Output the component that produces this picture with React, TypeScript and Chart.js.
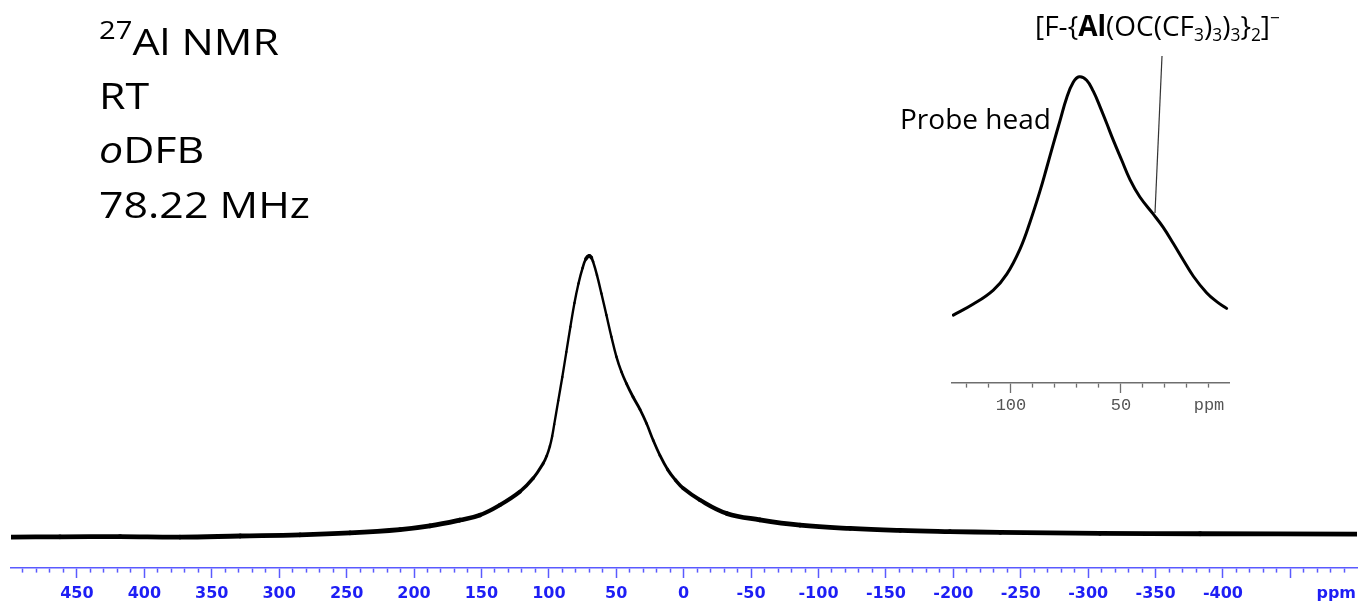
import React, { useEffect, useRef } from "react";
import { Chart, registerables } from "chart.js";

Chart.register(...registerables);

// ---- Main spectrum (27Al NMR) ----
const mainPpm = [
  498.9, 462.6, 418, 373.6, 329, 284.6, 247.5, 210.4, 188.2, 166, 151.1, 136.3,
  121.4, 111.6, 104.1, 101.5, 99.2, 97.5, 96, 93, 90, 87, 84, 81, 78, 75, 72.5, 70,
  68.5, 67.2, 64.3, 61, 57.3, 53.6, 49.9, 46.2, 42.5, 37.6, 32.4, 27.5, 22.6,
  17.6, 12, 6, 0.3, -12.1, -31.9, -56.5, -86.3, -123.4, -160.5, -197.6, -234.7,
  -308.8, -383, -499.4,
];
const mainIntensity = [
  -0.4, -0.3, -0.2, -0.4, 0, 0.4, 1.1, 2.3, 3.6, 5.7, 7.5, 11.1, 15.9, 20.7,
  26.1, 28.8, 32.2, 35.8, 40, 48.5, 57, 66, 75, 83.5, 90.5, 96, 99.3, 100.4, 99.8, 98.3,
  93.5, 86.9, 79.2, 71.4, 64.3, 58.9, 54.7, 49.9, 45.4, 40.3, 34.3, 28.9, 23.9,
  20, 17.1, 12.9, 8.1, 5.8, 3.9, 2.7, 2.0, 1.6, 1.3, 0.95, 0.8, 0.7,
];
const mainTickLabels = [450, 400, 350, 300, 250, 200, 150, 100, 50, 0, -50, -100, -150, -200, -250, -300, -350, -400];
const mainUnitLabel = "ppm";
const mainUnitAt = -484;

// ---- Inset (zoom of the peak) ----
const insetPpm = [
  126.2, 117.1, 108.0, 101.9, 95.9, 91.4, 86.8, 83.8, 80.8, 77.7, 74.7, 71.7,
  69.0, 65.6, 62.6, 59.5, 56.5, 53.5, 49.7, 45.9, 41.4, 35.3, 30.8, 26.2, 21.7,
  17.1, 11.1, 6.5, 2.0,
];
const insetIntensity = [
  22.2, 25.8, 30.4, 35.6, 43.8, 52.5, 62.8, 70.3, 78.0, 85.8, 93.2, 98.3, 100.1,
  99.0, 95.4, 90.3, 84.9, 79.4, 72.9, 66.5, 60.8, 55.2, 50.9, 45.6, 40.2, 34.9,
  29.5, 26.6, 24.4,
];
const insetTickLabels = [100, 50];
const insetUnitLabel = "ppm";
const insetUnitAt = 10;

const AXIS_BLUE = "rgb(90,90,255)";
const LABEL_BLUE = "rgb(30,30,245)";
const INSET_GRAY = "#6e6e6e";

function MainChart() {
  const ref = useRef<HTMLCanvasElement>(null);
  useEffect(() => {
    if (!ref.current) return;
    const chart = new Chart(ref.current, {
      type: "line",
      data: {
        datasets: [
          {
            data: mainPpm.map((x, i) => ({ x, y: mainIntensity[i] })),
            borderColor: "#000",
            borderWidth: 3,
            borderCapStyle: "round",
            borderJoinStyle: "round",
            pointRadius: 0,
            tension: 0.4,
            segment: {
              borderWidth: (ctx: any) => {
                const dx = Math.abs(ctx.p1.x - ctx.p0.x);
                const dy = Math.abs(ctx.p1.y - ctx.p0.y);
                const c = dx / Math.max(1e-6, Math.hypot(dx, dy));
                return 2.3 + 2.5 * c * c;
              },
            },
          },
        ],
      },
      options: {
        animation: false,
        responsive: true,
        maintainAspectRatio: false,
        layout: { padding: { left: 11, right: 3, top: 10, bottom: 3 } },
        plugins: { legend: { display: false }, tooltip: { enabled: false } },
        scales: {
          x: {
            type: "linear",
            reverse: true,
            min: -499.4,
            max: 498.9,
            afterBuildTicks: (scale: any) => {
              const t: { value: number }[] = [];
              for (let v = -490; v <= 490; v += 10) t.push({ value: v });
              t.push({ value: mainUnitAt });
              t.sort((a, b) => a.value - b.value);
              scale.ticks = t;
            },
            afterFit: (scale: any) => {
              scale.height = 36;
            },
            border: { display: true, color: AXIS_BLUE, width: 1.6 },
            grid: {
              drawOnChartArea: false,
              drawTicks: true,
              tickLength: 10,
              tickWidth: 1.5,
              tickColor: (ctx: any) =>
                ctx.tick && ctx.tick.value === mainUnitAt ? "rgba(0,0,0,0)" : AXIS_BLUE,
              tickBorderDash: (ctx: any) =>
                ctx.tick && ctx.tick.value % 50 === 0 ? [] : [4, 30],
            },
            ticks: {
              autoSkip: false,
              maxRotation: 0,
              minRotation: 0,
              padding: 6,
              color: LABEL_BLUE,
              font: { family: "'DejaVu Sans', sans-serif", size: 16, weight: "bold" },
              callback: (value: any) => {
                const v = Number(value);
                if (v === mainUnitAt) return mainUnitLabel;
                return mainTickLabels.includes(v) ? String(v) : "";
              },
            },
          },
          y: { display: false, min: -11.47, max: 188.5 },
        },
      },
    } as any);
    return () => chart.destroy();
  }, []);
  return <canvas ref={ref} />;
}

function InsetChart() {
  const ref = useRef<HTMLCanvasElement>(null);
  useEffect(() => {
    if (!ref.current) return;
    const chart = new Chart(ref.current, {
      type: "line",
      data: {
        datasets: [
          {
            data: insetPpm.map((x, i) => ({ x, y: insetIntensity[i] })),
            borderColor: "#000",
            borderWidth: 3,
            borderCapStyle: "round",
            borderJoinStyle: "round",
            pointRadius: 0,
            tension: 0.4,
          },
        ],
      },
      options: {
        animation: false,
        responsive: true,
        maintainAspectRatio: false,
        layout: { padding: { left: 22, right: 11, top: 10, bottom: 2 } },
        plugins: { legend: { display: false }, tooltip: { enabled: false } },
        scales: {
          x: {
            type: "linear",
            reverse: true,
            min: 0.9,
            max: 126.8,
            afterBuildTicks: (scale: any) => {
              const t: { value: number }[] = [];
              for (let v = 10; v <= 120; v += 10) t.push({ value: v });
              scale.ticks = t;
            },
            afterFit: (scale: any) => {
              scale.height = 32;
            },
            border: { display: true, color: INSET_GRAY, width: 1.6 },
            grid: {
              drawOnChartArea: false,
              drawTicks: true,
              tickLength: 10,
              tickWidth: 1.3,
              tickColor: INSET_GRAY,
              tickBorderDash: (ctx: any) =>
                ctx.tick && ctx.tick.value % 50 === 0 ? [] : [4, 30],
            },
            ticks: {
              autoSkip: false,
              maxRotation: 0,
              minRotation: 0,
              padding: 2,
              color: "#555",
              font: { family: "'Liberation Mono', 'Courier New', monospace", size: 17 },
              callback: (value: any) => {
                const v = Number(value);
                if (v === insetUnitAt) return insetUnitLabel;
                return insetTickLabels.includes(v) ? String(v) : "";
              },
            },
          },
          y: { display: false, min: 0, max: 105.6 },
        },
      },
    } as any);
    return () => chart.destroy();
  }, []);
  return <canvas ref={ref} />;
}

export default function App() {
  const bigFont = 37;
  const big: React.CSSProperties = {
    position: "absolute",
    left: 99,
    fontSize: bigFont,
    lineHeight: `${bigFont}px`,
    whiteSpace: "nowrap",
    color: "#000",
    transformOrigin: "left center",
    transform: "scaleX(1.16)",
  };
  const small: React.CSSProperties = {
    position: "absolute",
    fontSize: 28,
    lineHeight: "28px",
    whiteSpace: "nowrap",
    color: "#000",
  };
  const sub: React.CSSProperties = { fontSize: "0.62em", verticalAlign: "-0.28em", lineHeight: 0 };
  return (
    <div
      style={{
        position: "fixed",
        left: 0,
        top: 0,
        width: 1360,
        height: 607,
        overflow: "hidden",
        background: "#fff",
        fontFamily: "'Open Sans', 'Noto Sans', sans-serif",
      }}
    >
      <div style={{ position: "absolute", left: 0, top: 0, width: 1360, height: 607 }}>
        <MainChart />
      </div>
      <div style={{ position: "absolute", left: 930, top: 50, width: 310, height: 367 }}>
        <InsetChart />
      </div>
      <div style={{ ...big, top: 21.5 }}>
        <span style={{ fontSize: "0.68em", verticalAlign: "0.62em", lineHeight: 0 }}>27</span>Al NMR
      </div>
      <div style={{ ...big, top: 75.5 }}>RT</div>
      <div style={{ ...big, top: 130 }}>
        <i>o</i>DFB
      </div>
      <div style={{ ...big, top: 185 }}>78.22 MHz</div>
      <div style={{ ...small, left: 900, top: 103.5 }}>Probe head</div>
      <div style={{ ...small, left: 1035, top: 11 }}>
        [F-{"{"}
        <b>Al</b>(OC(CF<span style={sub}>3</span>)<span style={sub}>3</span>)
        <span style={sub}>3</span>
        {"}"}
        <span style={sub}>2</span>]
        <span style={{ fontSize: "0.62em", verticalAlign: "0.7em", lineHeight: 0 }}>−</span>
      </div>
      <svg
        width={1360}
        height={607}
        style={{ position: "absolute", left: 0, top: 0, pointerEvents: "none" }}
      >
        <line x1={1162} y1={56} x2={1155} y2={213} stroke="#333" strokeWidth={1.2} />
      </svg>
    </div>
  );
}
